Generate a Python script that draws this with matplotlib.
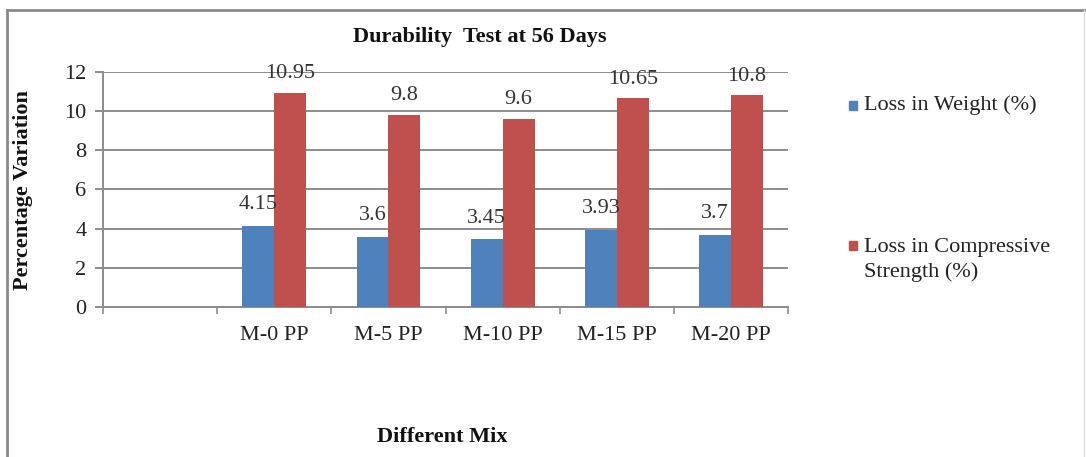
import matplotlib.pyplot as plt
import numpy as np
from matplotlib.lines import Line2D
from matplotlib.patches import Rectangle

mixes = ['', 'M-0 PP', 'M-5 PP', 'M-10 PP', 'M-15 PP', 'M-20 PP']
loss_weight = [np.nan, 4.15, 3.6, 3.45, 3.93, 3.7]
loss_strength = [np.nan, 10.95, 9.8, 9.6, 10.65, 10.8]
weight_labels = ['', '4.15', '3.6', '3.45', '3.93', '3.7']
strength_labels = ['', '10.95', '9.8', '9.6', '10.65', '10.8']

BLUE = '#4F81BD'
RED = '#C0504D'
GRID = '#8C8C8C'
FS = 16

plt.rcParams['font.family'] = ['Liberation Serif', 'DejaVu Serif']

fig = plt.figure(figsize=(10.86, 4.57), dpi=100)
ax = fig.add_axes([0.0948, 0.3282, 0.631, 0.5143])

x = np.arange(len(mixes))
w = 0.28
ax.bar(x - w / 2, loss_weight, w, color=BLUE, label='Loss in Weight (%)', zorder=3)
ax.bar(x + w / 2, loss_strength, w, color=RED,
       label='Loss in Compressive\nStrength (%)', zorder=3)

# value labels above each bar
for xi, v, s in zip(x, loss_weight, weight_labels):
    if s:
        ax.text(xi - w / 2, v + 0.6, s, ha='center', va='bottom', fontsize=FS, color='#333333')
for xi, v, s in zip(x, loss_strength, strength_labels):
    if s:
        ax.text(xi + w / 2, v + 0.5, s, ha='center', va='bottom', fontsize=FS, color='#333333')

ax.set_xlim(-0.5, len(mixes) - 0.5)
ax.set_ylim(0, 12)
ax.set_yticks(np.arange(0, 13, 2))
ax.yaxis.grid(True, color=GRID, linewidth=1.4, zorder=0)
ax.set_axisbelow(True)

ax.set_xticks(x)
ax.set_xticklabels(mixes, fontsize=FS, color='#222222')
ax.set_xticks(np.arange(-0.5, len(mixes), 1), minor=True)
ax.tick_params(axis='x', which='major', length=0, pad=14)
ax.tick_params(axis='x', which='minor', length=5, width=1.2, color=GRID, direction='out')
ax.tick_params(axis='y', length=6, width=1.4, color=GRID, labelsize=FS, pad=6,
               labelcolor='#222222')

for side in ['top', 'right']:
    ax.spines[side].set_visible(False)
for side in ['left', 'bottom']:
    ax.spines[side].set_color(GRID)
    ax.spines[side].set_linewidth(1.4)

fig.text(0.442, 0.918, 'Durability  Test at 56 Days', ha='center', va='center',
         fontsize=FS, fontweight='bold', color='#111111')
fig.text(0.021, 0.585, 'Percentage Variation', ha='center', va='center',
         rotation=90, fontsize=FS, fontweight='bold', color='#111111')
fig.text(0.407, 0.043, 'Different Mix', ha='center', va='center',
         fontsize=FS, fontweight='bold', color='#111111')

# legend entries placed to the right of the plot
handles, labels = ax.get_legend_handles_labels()
sq_w, sq_h = 8 / 1086, 9 / 457
fig.add_artist(Rectangle((849 / 1086, 1 - 110 / 457), sq_w, sq_h, color=BLUE,
                         transform=fig.transFigure))
fig.text(0.796, 1 - 105 / 457, labels[0], ha='left', va='center', fontsize=FS,
         color='#222222')
fig.add_artist(Rectangle((849 / 1086, 1 - 250 / 457), sq_w, sq_h, color=RED,
                         transform=fig.transFigure))
fig.text(0.796, 1 - 260 / 457, labels[1], ha='left', va='center', fontsize=FS,
         linespacing=1.35, color='#222222')

# outer chart border
fig.add_artist(Line2D([0.0065, 0.0065], [0.0, 0.978], color='#8a8a8a', linewidth=2))
fig.add_artist(Line2D([0.0065, 0.999], [0.978, 0.978], color='#8a8a8a', linewidth=2))
fig.add_artist(Line2D([0.998, 0.998], [0.0, 0.978], color='#dddddd', linewidth=1))

fig.savefig('out.png', dpi=100)
